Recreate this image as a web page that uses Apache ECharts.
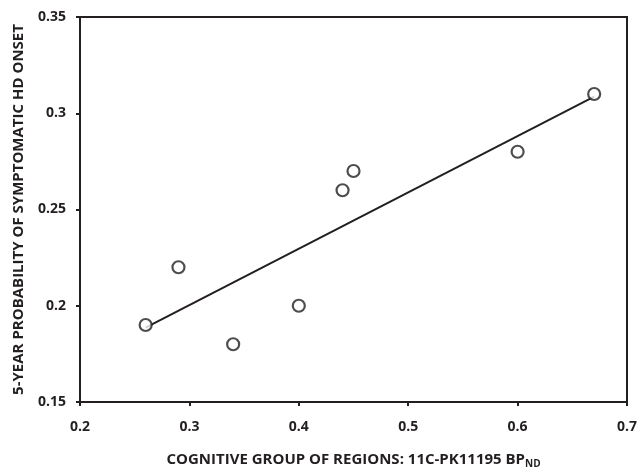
<!DOCTYPE html>
<html>
<head>
<meta charset="utf-8">
<script src="https://cdn.jsdelivr.net/npm/echarts@6/dist/echarts.min.js"></script>
<style>
  html, body { margin: 0; padding: 0; background: #fff; }
  #chart { width: 637px; height: 468px; }
</style>
</head>
<body>
<div id="chart"></div>
<script>
  // 11C-PK11195 BPnd vs 5-year probability of onset
  var bpnd = [0.26, 0.29, 0.34, 0.40, 0.44, 0.45, 0.60, 0.67];
  var probability = [0.19, 0.22, 0.18, 0.20, 0.26, 0.27, 0.28, 0.31];
  var xTicks = [0.2, 0.3, 0.4, 0.5, 0.6, 0.7];
  var yTicks = [0.15, 0.2, 0.25, 0.3, 0.35];

  var ink = '#231f20';
  var font = '"Open Sans", sans-serif';

  // least squares trend line
  var n = bpnd.length, mx = 0, my = 0;
  for (var i = 0; i < n; i++) { mx += bpnd[i] / n; my += probability[i] / n; }
  var sxy = 0, sxx = 0;
  for (var i = 0; i < n; i++) {
    sxy += (bpnd[i] - mx) * (probability[i] - my);
    sxx += (bpnd[i] - mx) * (bpnd[i] - mx);
  }
  var slope = sxy / sxx, icpt = my - slope * mx;
  var xMin = Math.min.apply(null, bpnd), xMax = Math.max.apply(null, bpnd);
  var trend = [[xMin, icpt + slope * xMin], [xMax, icpt + slope * xMax]];

  var points = bpnd.map(function (x, i) { return [x, probability[i]]; });

  var chart = echarts.init(document.getElementById('chart'));
  chart.setOption({
    animation: false,
    grid: {
      left: 80, right: 10, top: 17, bottom: 66,
      outerBoundsMode: 'none', containLabel: false,
      show: true, borderColor: ink, borderWidth: 2
    },
    xAxis: {
      type: 'value',
      min: xTicks[0], max: xTicks[xTicks.length - 1], interval: 0.1,
      name: '{t|COGNITIVE GROUP OF REGIONS: 11C-PK11195 BP}{s|ND}',
      nameLocation: 'middle', nameGap: 48,
      nameTextStyle: {
        rich: {
          t: { fontFamily: font, fontWeight: 'bold', fontSize: 15, color: ink },
          s: { fontFamily: font, fontWeight: 'bold', fontSize: 10, color: ink, padding: [9, 0, 0, 0] }
        }
      },
      axisLine: { show: true, lineStyle: { color: ink, width: 2 } },
      axisTick: { show: true, length: 4, lineStyle: { color: ink, width: 2 } },
      axisLabel: {
        margin: 18, color: ink, fontFamily: font, fontWeight: 'bold', fontSize: 14,
        formatter: function (v) { return +v.toFixed(2) + ''; }
      },
      splitLine: { show: false }
    },
    yAxis: {
      type: 'value',
      min: yTicks[0], max: yTicks[yTicks.length - 1], interval: 0.05,
      name: '5-YEAR PROBABILITY OF SYMPTOMATIC HD ONSET',
      nameLocation: 'middle', nameGap: 54,
      nameTextStyle: { fontFamily: font, fontWeight: 'bold', fontSize: 15, color: ink },
      axisLine: { show: true, lineStyle: { color: ink, width: 2 } },
      axisTick: { show: true, length: 4, lineStyle: { color: ink, width: 2 } },
      axisLabel: {
        margin: 14, color: ink, fontFamily: font, fontWeight: 'bold', fontSize: 14,
        formatter: function (v) { return +v.toFixed(2) + ''; }
      },
      splitLine: { show: false }
    },
    series: [
      {
        type: 'line',
        data: trend,
        symbol: 'none',
        lineStyle: { color: ink, width: 2 },
        z: 1
      },
      {
        type: 'scatter',
        data: points,
        symbol: 'circle',
        symbolSize: 12,
        itemStyle: { color: '#fff', borderColor: ink, borderWidth: 2.2 },
        z: 2
      }
    ]
  });
</script>
</body>
</html>
